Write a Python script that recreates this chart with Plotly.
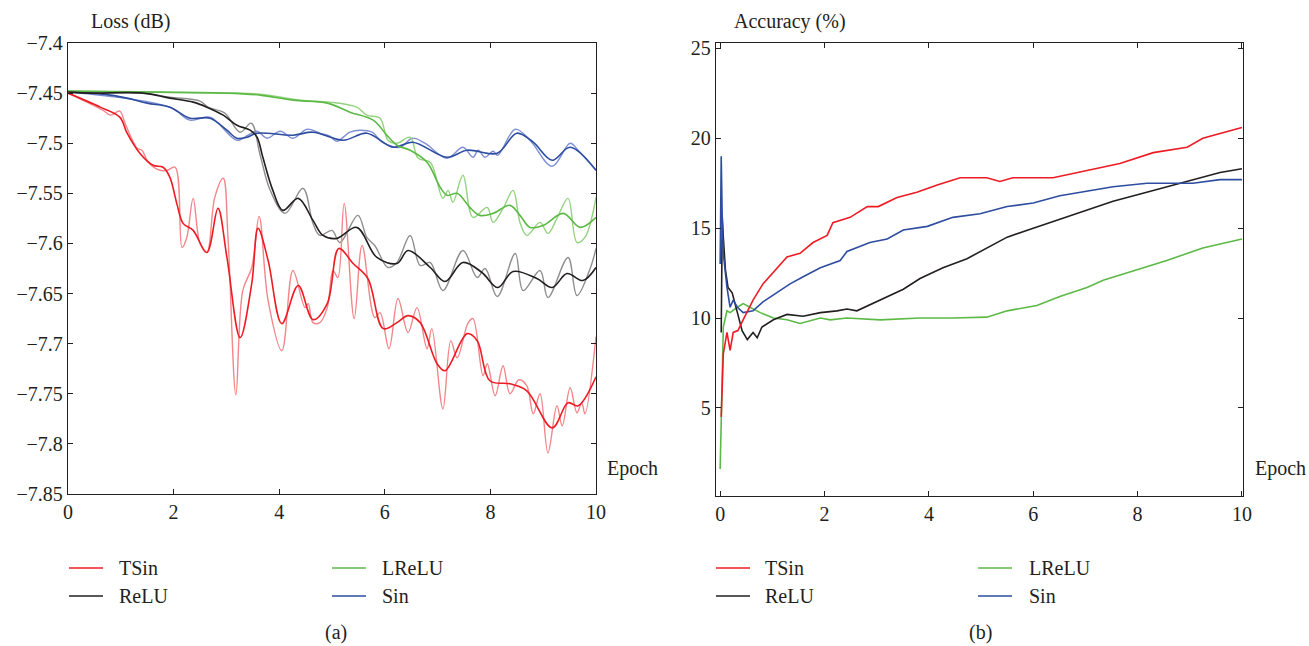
import plotly.graph_objects as go

W, H = 1309, 646
FONT = "Liberation Serif, DejaVu Serif, Times New Roman, serif"
FS = 20

# ---------------- (a) Loss data ----------------
tsin_s_x = [0.00, 0.61, 0.98, 1.12, 1.36, 1.61, 1.80, 1.93, 2.06, 2.18, 2.37, 2.63, 2.84, 3.01, 3.26, 3.48, 3.60, 3.79, 4.05, 4.36, 4.64, 4.91, 5.13, 5.40, 5.68, 5.97, 6.23, 6.44, 6.67, 6.99, 7.14, 7.56, 7.75, 7.99, 8.37, 8.69, 9.17, 9.47, 9.66, 10.0]
tsin_s_y = [-7.450, -7.464, -7.474, -7.490, -7.510, -7.522, -7.524, -7.534, -7.560, -7.580, -7.587, -7.609, -7.565, -7.614, -7.694, -7.640, -7.585, -7.617, -7.680, -7.642, -7.676, -7.660, -7.605, -7.620, -7.635, -7.685, -7.679, -7.672, -7.679, -7.720, -7.727, -7.690, -7.697, -7.737, -7.740, -7.747, -7.784, -7.759, -7.762, -7.733]
tsin_r_x = [0.00, 0.66, 0.80, 0.98, 1.08, 1.31, 1.40, 1.52, 1.74, 1.88, 2.03, 2.16, 2.25, 2.37, 2.50, 2.63, 2.78, 2.94, 3.03, 3.18, 3.31, 3.48, 3.62, 3.79, 4.05, 4.26, 4.49, 4.55, 4.64, 4.77, 4.91, 5.02, 5.11, 5.23, 5.42, 5.57, 5.81, 5.91, 6.08, 6.25, 6.44, 6.61, 6.80, 6.89, 7.10, 7.25, 7.37, 7.58, 7.67, 7.86, 7.94, 8.09, 8.24, 8.37, 8.54, 8.69, 8.81, 8.94, 9.09, 9.26, 9.36, 9.51, 9.64, 9.73, 9.79, 10.0]
tsin_r_y = [-7.450, -7.467, -7.472, -7.468, -7.480, -7.505, -7.507, -7.519, -7.527, -7.527, -7.524, -7.604, -7.594, -7.555, -7.600, -7.609, -7.554, -7.535, -7.594, -7.751, -7.647, -7.624, -7.573, -7.657, -7.707, -7.627, -7.664, -7.660, -7.679, -7.679, -7.664, -7.627, -7.634, -7.560, -7.675, -7.602, -7.674, -7.669, -7.705, -7.655, -7.689, -7.664, -7.705, -7.685, -7.765, -7.697, -7.714, -7.679, -7.675, -7.732, -7.720, -7.752, -7.722, -7.750, -7.736, -7.742, -7.770, -7.750, -7.809, -7.762, -7.782, -7.744, -7.769, -7.759, -7.770, -7.693]

relu_s_x = [0.00, 0.47, 1.42, 1.93, 2.37, 2.63, 2.94, 3.20, 3.45, 3.58, 3.69, 3.88, 4.07, 4.36, 4.64, 4.83, 5.09, 5.47, 5.85, 6.23, 6.44, 6.86, 7.14, 7.48, 7.84, 8.14, 8.43, 8.88, 9.17, 9.45, 9.75, 10.0]
relu_s_y = [-7.449, -7.450, -7.450, -7.455, -7.459, -7.464, -7.472, -7.482, -7.487, -7.494, -7.514, -7.547, -7.567, -7.555, -7.577, -7.592, -7.595, -7.584, -7.614, -7.620, -7.607, -7.624, -7.638, -7.619, -7.629, -7.644, -7.628, -7.635, -7.644, -7.630, -7.637, -7.624]
relu_r_x = [0.00, 1.42, 1.93, 2.50, 2.65, 2.97, 3.26, 3.47, 3.64, 3.83, 4.11, 4.45, 4.64, 4.77, 5.00, 5.15, 5.49, 5.66, 5.81, 6.06, 6.23, 6.48, 6.67, 6.86, 7.10, 7.48, 7.75, 7.90, 8.13, 8.47, 8.62, 8.94, 9.09, 9.47, 9.64, 9.89, 10.0]
relu_r_y = [-7.449, -7.450, -7.454, -7.458, -7.464, -7.470, -7.489, -7.480, -7.512, -7.547, -7.570, -7.545, -7.580, -7.592, -7.587, -7.599, -7.572, -7.594, -7.602, -7.624, -7.619, -7.592, -7.622, -7.619, -7.647, -7.607, -7.634, -7.625, -7.653, -7.610, -7.647, -7.627, -7.654, -7.614, -7.652, -7.625, -7.605]

lrelu_s_x = [0.00, 1.74, 3.01, 3.64, 4.26, 4.91, 5.34, 5.78, 6.04, 6.23, 6.48, 6.80, 7.05, 7.18, 7.37, 7.61, 7.80, 8.05, 8.37, 8.56, 8.75, 9.00, 9.38, 9.70, 10.0]
lrelu_s_y = [-7.448, -7.449, -7.450, -7.452, -7.457, -7.460, -7.469, -7.477, -7.492, -7.502, -7.507, -7.519, -7.544, -7.552, -7.550, -7.564, -7.572, -7.570, -7.562, -7.572, -7.584, -7.582, -7.570, -7.584, -7.574]
lrelu_r_x = [0.00, 3.01, 3.64, 4.26, 4.58, 4.96, 5.47, 5.66, 5.91, 6.06, 6.23, 6.48, 6.63, 6.86, 7.10, 7.20, 7.29, 7.48, 7.67, 7.94, 8.05, 8.24, 8.43, 8.56, 8.69, 8.94, 9.09, 9.26, 9.47, 9.64, 9.79, 10.0]
lrelu_r_y = [-7.448, -7.450, -7.451, -7.456, -7.458, -7.459, -7.464, -7.472, -7.475, -7.497, -7.500, -7.494, -7.515, -7.519, -7.555, -7.547, -7.559, -7.532, -7.574, -7.564, -7.579, -7.565, -7.547, -7.579, -7.592, -7.579, -7.590, -7.575, -7.555, -7.599, -7.594, -7.554]

sin_s_x = [0.00, 0.66, 1.12, 1.50, 1.93, 2.31, 2.69, 3.01, 3.20, 3.39, 3.58, 4.26, 4.64, 5.21, 5.66, 6.16, 6.53, 7.18, 7.56, 8.13, 8.50, 8.81, 9.17, 9.51, 10.0]
sin_s_y = [-7.449, -7.451, -7.455, -7.460, -7.464, -7.475, -7.475, -7.487, -7.495, -7.494, -7.490, -7.492, -7.489, -7.497, -7.490, -7.504, -7.499, -7.514, -7.507, -7.510, -7.490, -7.499, -7.517, -7.504, -7.527]
sin_r_x = [0.00, 1.93, 2.31, 2.69, 3.20, 3.41, 3.58, 3.77, 4.02, 4.26, 4.53, 4.77, 4.96, 5.09, 5.34, 5.53, 5.76, 5.95, 6.29, 6.52, 6.76, 7.18, 7.48, 7.67, 7.77, 7.90, 8.05, 8.14, 8.47, 8.75, 9.17, 9.51, 9.66, 10.0]
sin_r_y = [-7.449, -7.464, -7.477, -7.474, -7.497, -7.492, -7.488, -7.495, -7.488, -7.495, -7.486, -7.490, -7.493, -7.498, -7.489, -7.487, -7.489, -7.499, -7.504, -7.495, -7.500, -7.515, -7.504, -7.514, -7.507, -7.514, -7.508, -7.512, -7.486, -7.497, -7.523, -7.500, -7.507, -7.527]

loss_ticks = [-7.4, -7.45, -7.5, -7.55, -7.6, -7.65, -7.7, -7.75, -7.8, -7.85]
loss_tick_text = ["\u22127.4", "\u22127.45", "\u22127.5", "\u22127.55", "\u22127.6", "\u22127.65", "\u22127.7", "\u22127.75", "\u22127.8", "\u22127.85"]
epoch_ticks = [0, 2, 4, 6, 8, 10]
acc_ticks = [5, 10, 15, 20, 25]

# ---------------- (b) Accuracy data ----------------
acc_tsin_x = [0.02, 0.06, 0.13, 0.19, 0.25, 0.34, 0.44, 0.63, 0.82, 1.09, 1.28, 1.53, 1.78, 2.05, 2.16, 2.49, 2.82, 3.03, 3.39, 3.77, 4.16, 4.60, 5.11, 5.36, 5.61, 6.38, 7.03, 7.66, 8.30, 8.95, 9.25, 10.0]
acc_tsin_y = [4.5, 8.0, 9.2, 8.2, 9.2, 9.3, 9.9, 11.0, 11.9, 12.8, 13.4, 13.6, 14.2, 14.6, 15.3, 15.6, 16.2, 16.2, 16.7, 17.0, 17.4, 17.8, 17.8, 17.6, 17.8, 17.8, 18.2, 18.6, 19.2, 19.5, 20.0, 20.6]
acc_relu_x = [0.02, 0.04, 0.06, 0.10, 0.15, 0.23, 0.33, 0.42, 0.52, 0.63, 0.71, 0.80, 1.02, 1.28, 1.59, 1.92, 2.24, 2.43, 2.62, 3.07, 3.51, 3.83, 4.27, 4.73, 5.11, 5.50, 6.00, 6.51, 7.03, 7.53, 8.05, 8.56, 9.06, 9.58, 10.0]
acc_relu_y = [9.2, 15.6, 14.5, 12.7, 11.7, 11.4, 10.3, 9.3, 8.8, 9.2, 8.9, 9.5, 9.9, 10.2, 10.1, 10.3, 10.4, 10.5, 10.4, 11.0, 11.6, 12.2, 12.8, 13.3, 13.9, 14.5, 15.0, 15.5, 16.0, 16.5, 16.9, 17.3, 17.7, 18.1, 18.3]
acc_lrelu_x = [0.00, 0.02, 0.04, 0.06, 0.13, 0.19, 0.33, 0.44, 0.57, 0.77, 1.02, 1.28, 1.53, 1.92, 2.11, 2.43, 3.07, 3.83, 4.46, 5.11, 5.50, 6.07, 6.51, 7.03, 7.34, 7.99, 8.56, 9.25, 10.0]
acc_lrelu_y = [1.6, 4.3, 8.0, 9.5, 10.4, 10.3, 10.6, 10.8, 10.6, 10.3, 10.0, 9.9, 9.7, 10.0, 9.9, 10.0, 9.9, 10.0, 10.0, 10.05, 10.4, 10.7, 11.2, 11.7, 12.1, 12.7, 13.2, 13.9, 14.4]
acc_sin_x = [0.00, 0.02, 0.04, 0.06, 0.13, 0.19, 0.25, 0.33, 0.44, 0.63, 0.82, 1.09, 1.34, 1.59, 1.92, 2.30, 2.43, 2.87, 3.20, 3.51, 3.97, 4.46, 4.98, 5.50, 6.00, 6.51, 7.15, 7.53, 8.18, 8.62, 9.06, 9.58, 10.0]
acc_sin_y = [13.0, 19.0, 15.4, 13.6, 11.7, 10.6, 11.0, 10.6, 10.3, 10.4, 10.9, 11.4, 11.9, 12.3, 12.8, 13.2, 13.7, 14.2, 14.4, 14.9, 15.1, 15.6, 15.8, 16.2, 16.4, 16.8, 17.1, 17.3, 17.5, 17.5, 17.5, 17.7, 17.7]

names = ["TSin", "ReLU", "LReLU", "Sin"]
dark = {"TSin": "#ed1c24", "ReLU": "#231f20", "LReLU": "#5cb946", "Sin": "#2e4da0"}
light = {"TSin": "#f3868a", "ReLU": "#8e8e8e", "LReLU": "#93d27e", "Sin": "#7f8fd3"}

fig = go.Figure()

loss_raw = {"TSin": (tsin_r_x, tsin_r_y), "ReLU": (relu_r_x, relu_r_y),
            "LReLU": (lrelu_r_x, lrelu_r_y), "Sin": (sin_r_x, sin_r_y)}
loss_smooth = {"TSin": (tsin_s_x, tsin_s_y), "ReLU": (relu_s_x, relu_s_y),
               "LReLU": (lrelu_s_x, lrelu_s_y), "Sin": (sin_s_x, sin_s_y)}
acc = {"TSin": (acc_tsin_x, acc_tsin_y), "ReLU": (acc_relu_x, acc_relu_y),
       "LReLU": (acc_lrelu_x, acc_lrelu_y), "Sin": (acc_sin_x, acc_sin_y)}

for n in ["Sin", "LReLU", "ReLU", "TSin"]:
    x, y = loss_raw[n]
    fig.add_trace(go.Scatter(x=x, y=y, mode="lines", name=n + " raw", showlegend=False,
                             line=dict(color=light[n], width=1.4, shape="spline", smoothing=1.0),
                             xaxis="x", yaxis="y"))
for n in ["Sin", "LReLU", "ReLU", "TSin"]:
    x, y = loss_smooth[n]
    fig.add_trace(go.Scatter(x=x, y=y, mode="lines", name=n, showlegend=False,
                             line=dict(color=dark[n], width=1.6, shape="spline", smoothing=1.0),
                             xaxis="x", yaxis="y"))
for n in ["LReLU", "ReLU", "Sin", "TSin"]:
    x, y = acc[n]
    fig.add_trace(go.Scatter(x=x, y=y, mode="lines", name=n, showlegend=False,
                             line=dict(color=dark[n], width=1.6),
                             xaxis="x2", yaxis="y2"))

def px(v):
    return v / W

def py(v):
    return 1 - v / H

axis_common = dict(showline=True, linecolor="#231f20", linewidth=1.3, mirror="ticks",
                   ticks="inside", ticklen=5, tickwidth=1.2, tickcolor="#231f20",
                   showgrid=False, zeroline=False, automargin=False,
                   tickfont=dict(family=FONT, size=FS, color="#231f20"))

fig.update_layout(
    width=W, height=H, margin=dict(l=0, r=0, t=0, b=0, autoexpand=False),
    paper_bgcolor="white", plot_bgcolor="white",
    font=dict(family=FONT, size=FS, color="#231f20"),
    xaxis=dict(domain=[px(68), px(596)], range=[0, 10], tickvals=epoch_ticks,
               anchor="y", **axis_common),
    yaxis=dict(domain=[py(494), py(43)], range=[-7.85, -7.4], tickvals=loss_ticks,
               ticktext=loss_tick_text, anchor="x", **axis_common),
    xaxis2=dict(domain=[px(716), px(1243)], range=[-0.08, 10.02], tickvals=epoch_ticks,
                anchor="y2", **axis_common),
    yaxis2=dict(domain=[py(496), py(43)], range=[0.1, 25.3], tickvals=acc_ticks,
                anchor="x2", **axis_common),
)

ann = []
def text(x, y, s, xanchor="center"):
    ann.append(dict(x=px(x), y=py(y), xref="paper", yref="paper", text=s, showarrow=False,
                    xanchor=xanchor, yanchor="middle",
                    font=dict(family=FONT, size=FS, color="#231f20")))

text(130, 22, "Loss (dB)")
text(790, 22, "Accuracy (%)")
text(632, 469, "Epoch")
text(1280, 469, "Epoch")
text(336, 632, "(a)")
text(980, 632, "(b)")

shapes = []
leg_pos = [("TSin", 0, 568), ("LReLU", 1, 568), ("ReLU", 0, 596), ("Sin", 1, 596)]
for base_cols in ([(69, 117), (332, 380)], [(716, 763), (978, 1027)]):
    for n, col, yy in leg_pos:
        lx, tx = base_cols[col]
        shapes.append(dict(type="line", xref="paper", yref="paper",
                           x0=px(lx), x1=px(lx + 34), y0=py(yy), y1=py(yy),
                           line=dict(color=dark[n], width=1.5)))
        text(tx, yy, n, xanchor="left")

fig.update_layout(annotations=ann, shapes=shapes)
fig.write_html("out.html", config={"displayModeBar": False},
               post_script="document.body.style.margin='0px';document.body.style.overflow='hidden';")
